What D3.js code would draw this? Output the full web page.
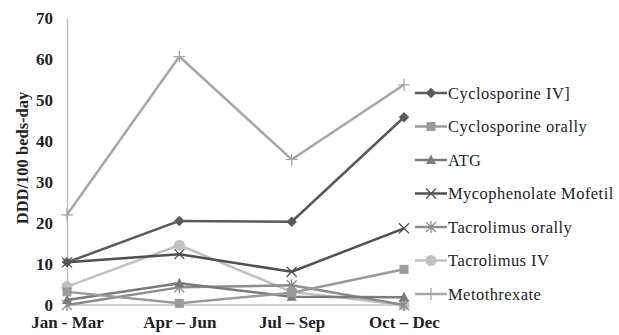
<!DOCTYPE html>
<html><head><meta charset="utf-8">
<script src="https://cdn.jsdelivr.net/npm/d3@7"></script>
<style>
html,body{margin:0;padding:0;background:#fff;}
svg{display:block;}
</style></head>
<body>
<svg id="chart" width="619" height="335"></svg>
<script>
const categories = ["Jan - Mar", "Apr \u2013 Jun", "Jul \u2013 Sep", "Oct \u2013 Dec"];
const yTicks = [0, 10, 20, 30, 40, 50, 60, 70];
const seriesNames = ["Cyclosporine IV]", "Cyclosporine orally", "ATG", "Mycophenolate Mofetil", "Tacrolimus orally", "Tacrolimus IV", "Metothrexate"];
const cyclosporineIV = [10.4, 20.5, 20.3, 45.8];
const cyclosporineOrally = [3.2, 0.4, 3.0, 8.7];
const atg = [1.2, 5.3, 2.0, 1.9];
const mycophenolate = [10.4, 12.4, 8.1, 18.7];
const tacrolimusOrally = [0, 4.3, 4.8, 0];
const tacrolimusIV = [4.5, 14.6, 3.2, 0];
const metothrexate = [22, 60.6, 35.5, 53.7];

const seriesValues = [cyclosporineIV, cyclosporineOrally, atg, mycophenolate, tacrolimusOrally, tacrolimusIV, metothrexate];
const colors = ["#595959", "#9a9a9a", "#7a7a7a", "#505050", "#8c8c8c", "#c0c0c0", "#a6a6a6"];
const symbols = ["diamond", "square", "triangle", "x", "asterisk", "circle", "plus"];

const svg = d3.select("#chart");
const x = d3.scalePoint().domain(categories).range([67, 404]);
const y = d3.scaleLinear().domain([0, 70]).range([305, 18]);
const serif = "'Liberation Serif','Times New Roman',serif";

// axes
const yAxis = svg.append("g").attr("transform", "translate(67,0)")
  .call(d3.axisLeft(y).tickValues(yTicks).tickSize(0).tickPadding(14).tickFormat(d3.format("d")));
yAxis.select(".domain").attr("stroke", "#bfbfbf").attr("stroke-width", 1.5);
yAxis.selectAll("text").attr("font-family", serif).attr("font-weight", "bold").attr("font-size", 17).attr("fill", "#222");

const xAxis = svg.append("g").attr("transform", "translate(0,305)")
  .call(d3.axisBottom(x).tickSize(0).tickPadding(11));
xAxis.select(".domain").attr("stroke", "#bfbfbf").attr("stroke-width", 1.5).attr("d", "M67,0H408");
xAxis.selectAll("text").attr("font-family", serif).attr("font-weight", "bold").attr("font-size", 17).attr("fill", "#222");

svg.append("text")
  .attr("transform", "translate(28,158) rotate(-90)")
  .attr("text-anchor", "middle")
  .attr("font-family", serif).attr("font-weight", "bold").attr("font-size", 16.5).attr("fill", "#222")
  .text("DDD/100 beds-day");

function drawMarker(g, kind, cx, cy, color) {
  if (kind === "diamond") {
    g.append("path").attr("d", d3.symbol(d3.symbolDiamond2 || d3.symbolDiamond, 70)()).attr("transform", `translate(${cx},${cy})`).attr("fill", color);
  } else if (kind === "square") {
    g.append("rect").attr("x", cx - 4.5).attr("y", cy - 4.5).attr("width", 9).attr("height", 9).attr("fill", color);
  } else if (kind === "triangle") {
    g.append("path").attr("d", `M${cx},${cy-5.5}L${cx+5},${cy+4}L${cx-5},${cy+4}Z`).attr("fill", color);
  } else if (kind === "circle") {
    g.append("circle").attr("cx", cx).attr("cy", cy).attr("r", 5.5).attr("fill", color);
  } else if (kind === "x") {
    g.append("path").attr("d", `M${cx-5},${cy-5}L${cx+5},${cy+5}M${cx-5},${cy+5}L${cx+5},${cy-5}`).attr("stroke", color).attr("stroke-width", 1.3).attr("fill", "none");
  } else if (kind === "asterisk") {
    g.append("path").attr("d", `M${cx-5},${cy-5}L${cx+5},${cy+5}M${cx-5},${cy+5}L${cx+5},${cy-5}M${cx},${cy-6}L${cx},${cy+6}`).attr("stroke", color).attr("stroke-width", 1.3).attr("fill", "none");
  } else if (kind === "plus") {
    g.append("path").attr("d", `M${cx-6},${cy}L${cx+6},${cy}M${cx},${cy-6}L${cx},${cy+6}`).attr("stroke", color).attr("stroke-width", 1.3).attr("fill", "none");
  }
}

const line = d3.line().x((d, i) => x(categories[i])).y(d => y(d));
const order = [6, 5, 4, 3, 2, 1, 0];
order.forEach(si => {
  const g = svg.append("g");
  g.append("path").datum(seriesValues[si]).attr("d", line)
    .attr("fill", "none").attr("stroke", colors[si]).attr("stroke-width", 2.5).attr("stroke-linejoin", "round");
  seriesValues[si].forEach((v, i) => drawMarker(g, symbols[si], x(categories[i]), y(v), colors[si]));
});

// legend
const legend = svg.append("g");
seriesNames.forEach((name, i) => {
  const ly = 93 + i * 33.5;
  const g = legend.append("g");
  g.append("line").attr("x1", 415).attr("x2", 447).attr("y1", ly).attr("y2", ly)
    .attr("stroke", colors[i]).attr("stroke-width", 2.5);
  drawMarker(g, symbols[i], 431, ly, colors[i]);
  g.append("text").attr("x", 448).attr("y", ly).attr("dy", "0.35em")
    .attr("font-family", serif).attr("font-size", 16.5).attr("letter-spacing", 0.45).attr("fill", "#222")
    .text(name);
});
</script>
</body></html>
